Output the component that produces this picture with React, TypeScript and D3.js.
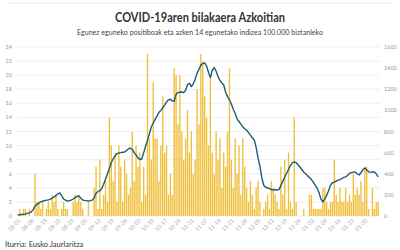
import React from "react";
import * as d3 from "d3";

const startDate = "2020-08-01";
const tickLabels = ["08-01","08-08","08-15","08-22","08-29","09-05","09-12","09-19","09-26","10-03","10-10","10-17","10-24","10-31","11-07","11-14","11-21","11-28","12-05","12-12","12-19","12-26","01-02","01-09","01-16","01-23","01-30"];
const leftTicks = [0,2,4,6,8,10,12,14,16,18,20,22,24];
const rightTicks = [0,200,400,600,800,1000,1200,1400,1600];

const dailyCases = [
  0,1,0,1,1,0,1,0,0,6,
  2,2,1,2,0,1,2,1,3,2,
  3,1,0,1,2,1,1,0,0,2,
  3,2,3,2,1,0,0,2,0,0,
  4,7,1,8,1,3,5,2,14,10,
  5,9,2,10,7,2,8,6,3,4,
  12,5,10,7,9,2,7,3,23,11,
  8,19,11,11,5,10,17,9,10,3,
  6,3,21,20,13,20,12,8,11,15,
  9,12,6,8,18,13,23,22,17,14,
  10,20,9,6,12,8,11,4,9,7,
  12,21,8,4,11,6,10,3,11,7,
  4,2,5,3,1,4,5,2,0,1,
  2,3,1,5,4,3,2,1,7,3,
  8,1,9,2,1,14,2,0,0,0,
  1,0,0,3,3,1,1,1,1,1,
  4,4,2,1,2,2,8,3,2,4,
  2,2,4,2,3,2,6,3,4,3,
  5,2,7,7,1,0,4,1,2,2
];

const incidence14 = [
  10,12,14,16,20,25,30,38,60,95,
  110,122,133,140,145,150,152,160,170,180,
  195,210,218,190,161,150,142,145,150,161,
  175,185,190,170,152,148,145,142,145,150,
  170,215,230,240,260,300,350,400,450,505,
  540,570,590,597,600,604,606,620,635,644,
  630,600,578,550,535,540,600,660,715,780,
  843,880,915,945,980,1000,1025,1050,1080,1100,
  1105,1090,1085,1150,1170,1172,1174,1168,1190,1245,
  1255,1225,1250,1295,1350,1390,1430,1442,1449,1420,
  1360,1310,1380,1405,1370,1320,1285,1260,1240,1170,
  1130,1100,1060,1010,970,920,895,870,845,825,
  814,790,765,740,720,650,550,470,360,290,
  272,265,262,250,246,250,246,250,290,330,
  370,405,440,480,505,511,505,485,462,440,
  415,400,380,365,345,320,290,265,220,160,
  135,160,195,240,290,315,320,330,340,345,
  355,365,370,385,405,410,415,417,400,388,
  410,440,455,435,418,415,418,417,400,370
];

const W = 400, H = 250;
const X0 = 17, X1 = 379, Y0 = 216, Y1 = 47;
const FONT = "Lato, 'Open Sans', sans-serif";

export default function App() {
  const fmt = d3.timeFormat("%m-%d");
  const start = d3.timeParse("%Y-%m-%d")(startDate) as Date;
  const dates = dailyCases.map((_, i) => fmt(d3.timeDay.offset(start, i)));

  const x = d3.scaleBand<string>().domain(dates).range([X0, X1]).paddingInner(0.28).paddingOuter(0.1);
  const yL = d3.scaleLinear().domain([0, 24]).range([Y0, Y1]);
  const yR = d3.scaleLinear().domain([0, 1600]).range([Y0, Y1]);

  const line = d3.line<number>()
    .x((_, i) => (x(dates[i]) as number) + x.bandwidth() / 2)
    .y((d) => yR(d))
    .curve(d3.curveLinear);

  return (
    <svg width={W} height={H} style={{ position: "absolute", left: 0, top: 0, background: "#fff" }}>
      <line x1={7} x2={393} y1={3} y2={3} stroke="#e6e6e6" strokeWidth={1} />
      <text x={200} y={22} textAnchor="middle" fontFamily={FONT} fontWeight={700} fontSize={13} fill="#333"
        textLength={170} lengthAdjust="spacingAndGlyphs">COVID-19aren bilakaera Azkoitian</text>
      <text x={200} y={35} textAnchor="middle" fontFamily={FONT} fontSize={8} fill="#444"
        textLength={246} lengthAdjust="spacingAndGlyphs">Egunez eguneko positiboak eta azken 14 egunetako indizea 100.000 biztanleko</text>

      {leftTicks.map((t) => (
        <g key={"g" + t}>
          <line x1={X0} x2={380} y1={yL(t)} y2={yL(t)} stroke="#ebebeb" strokeWidth={0.8} />
          <text x={12} y={yL(t) + 2} textAnchor="end" fontFamily={FONT} fontSize={5.5} fill="#999">{t}</text>
        </g>
      ))}
      {rightTicks.map((t) => (
        <text key={"r" + t} x={384} y={yR(t) + 2} textAnchor="start" fontFamily={FONT} fontSize={5.5} fill="#999">{t}</text>
      ))}

      {dailyCases.map((v, i) => (
        <rect key={i} x={x(dates[i])} y={yL(v)} width={x.bandwidth()} height={Y0 - yL(v)} fill="#f0c03c" />
      ))}

      <path d={line(incidence14) || ""} fill="none" stroke="#1f5a78" strokeWidth={1.4} strokeLinejoin="round" />

      {tickLabels.map((t) => {
        const px = (x(t) as number) + x.bandwidth() / 2;
        return (
          <text key={"x" + t} transform={`translate(${px + 3},${221}) rotate(-45)`} textAnchor="end"
            fontFamily={FONT} fontSize={5.5} fill="#aaa">{t}</text>
        );
      })}

      <text x={5} y={247} fontFamily={FONT} fontSize={7.5} fill="#333">Iturria: Eusko Jaurlaritza</text>
    </svg>
  );
}
